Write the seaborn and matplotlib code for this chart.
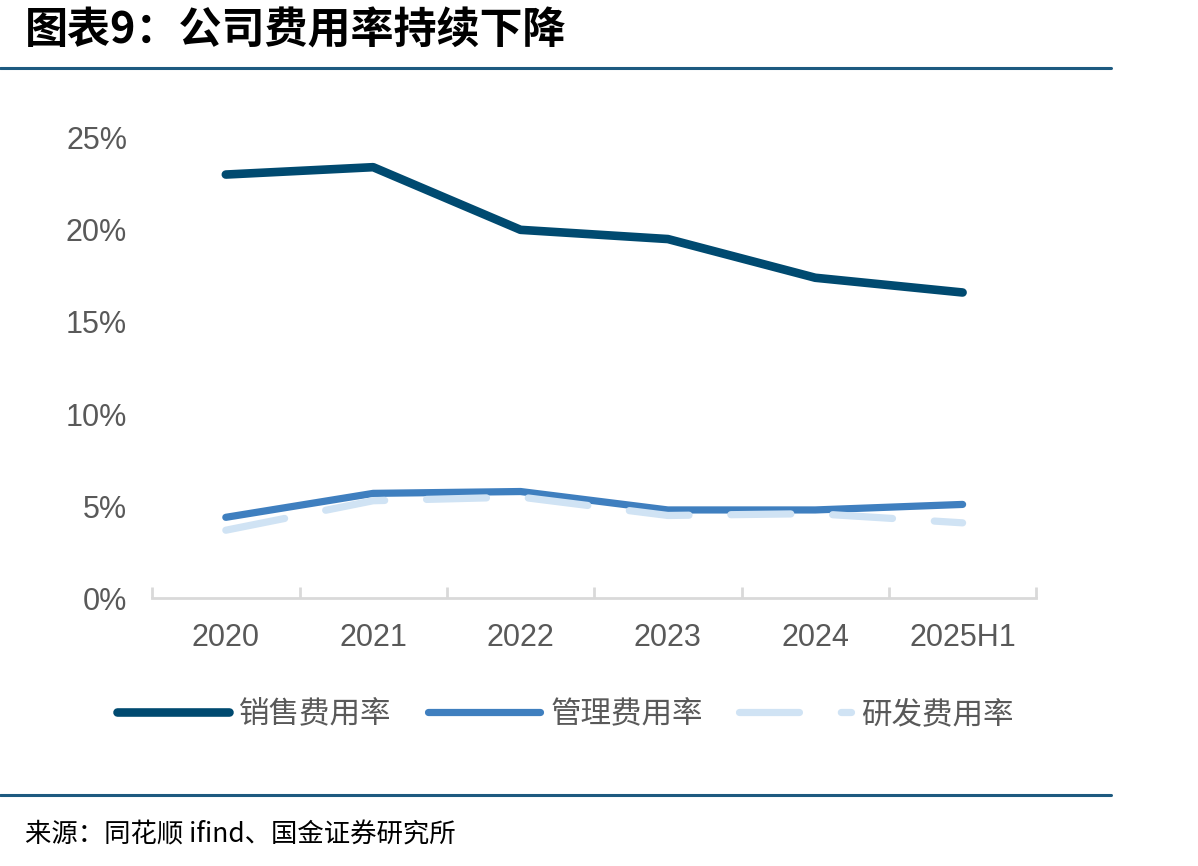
import numpy as np
import pandas as pd
import matplotlib
matplotlib.use('Agg')
import matplotlib.pyplot as plt
import seaborn as sns
from matplotlib.ticker import FuncFormatter, FixedLocator

years = ['2020', '2021', '2022', '2023', '2024', '2025H1']
sales_rate = [23.0, 23.4, 20.0, 19.5, 17.4, 16.6]
admin_rate = [4.4, 5.7, 5.8, 4.8, 4.8, 5.1]
rd_rate = [3.7, 5.3, 5.5, 4.5, 4.6, 4.1]
series_names = ['销售费用率', '管理费用率', '研发费用率']

df = pd.DataFrame({'year': years, series_names[0]: sales_rate,
                   series_names[1]: admin_rate, series_names[2]: rd_rate})
long_df = df.melt(id_vars='year', var_name='series', value_name='rate')

sns.set_style('white')
plt.rcParams['font.family'] = ['Liberation Sans', 'Noto Sans CJK SC', 'DejaVu Sans']

fig = plt.figure(figsize=(11.98, 8.66), dpi=100)
ax = fig.add_axes([0.127, 0.309, 0.738, 0.532])

colors = ['#004A70', '#3F7FBF', '#D0E3F4']
sns.lineplot(data=long_df, x='year', y='rate', hue='series', palette=colors,
             ax=ax, sort=False, legend=False)
widths = [6.2, 5.2, 5.2]
rd_dash = (8.3, 5.8)
for line, w in zip(ax.get_lines(), widths):
    line.set_linewidth(w)
    line.set_solid_capstyle('round')
    line.set_dash_capstyle('round')
    line.set_solid_joinstyle('round')
ax.get_lines()[2].set_dashes(list(rd_dash))

ax.set_xlim(-0.5, 5.5)
ax.set_ylim(0, 25)
ax.set_yticks([0, 5, 10, 15, 20, 25])
ax.yaxis.set_major_formatter(FuncFormatter(lambda v, p: f'{v:.0f}%'))
ax.set_xlabel('')
ax.set_ylabel('')

for s in ['top', 'right', 'left']:
    ax.spines[s].set_visible(False)
ax.spines['bottom'].set_color('#D9D9D9')
ax.spines['bottom'].set_linewidth(2)
ax.xaxis.set_minor_locator(FixedLocator(np.arange(-0.5, 6, 1)))
ax.tick_params(axis='x', which='minor', direction='in', length=8, width=2,
               color='#D9D9D9', bottom=True)
ax.tick_params(axis='x', which='major', length=0, pad=18, labelsize=22,
               labelcolor='#595959')
ax.tick_params(axis='y', length=0, pad=18, labelsize=22, labelcolor='#595959')

# legend
handles = []
for name, c, w, ls in zip(series_names, colors, widths,
                          ['-', '-', (0, rd_dash)]):
    h = plt.Line2D([], [], color=c, lw=w, linestyle=ls,
                   solid_capstyle='round', dash_capstyle='round')
    handles.append(h)
fig.legend(handles, series_names, loc='center', bbox_to_anchor=(0.472, 0.175),
           ncol=3, frameon=False, handlelength=3.66,
           handletextpad=0.33, columnspacing=1.2,
           prop={'family': ['Noto Sans CJK SC'], 'size': 22},
           labelcolor='#595959')

# title and rules
fig.text(0.021, 0.965, '图表9：公司费用率持续下降', fontsize=31, fontweight='bold',
         fontstyle='italic', family=['Noto Sans CJK SC'], va='center',
         ha='left', color='black')
fig.add_artist(plt.Line2D([0, 0.927], [0.921, 0.921], color='#1D5A80', lw=2.2,
                          transform=fig.transFigure))
fig.add_artist(plt.Line2D([0, 0.927], [0.082, 0.082], color='#1D5A80', lw=2.2,
                          transform=fig.transFigure))
fig.text(0.021, 0.036, '来源：同花顺 ifind、国金证券研究所', fontsize=19,
         family=['Noto Sans CJK SC'], va='center', ha='left', color='black')

fig.savefig('out.png', dpi=100)
